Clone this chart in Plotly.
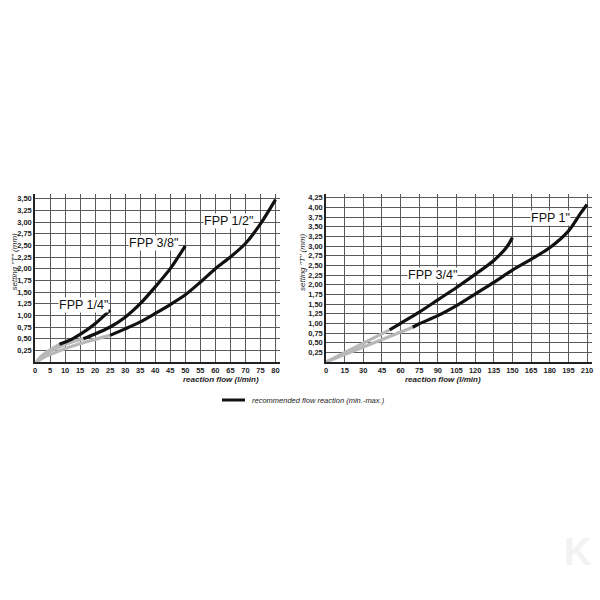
import plotly.graph_objects as go

# ---------------- data ----------------
# left chart (reaction flow l/min, setting "T" mm)
fpp14_gray_x = [0.5, 2, 4.5, 8.1]
fpp14_gray_y = [0.0, 0.12, 0.24, 0.38]
fpp14_x = [8.1, 12, 15, 20, 25]
fpp14_y = [0.38, 0.48, 0.59, 0.82, 1.11]

fpp38_gray_x = [0.5, 3, 7, 11, 16.1]
fpp38_gray_y = [0.0, 0.15, 0.29, 0.40, 0.50]
fpp38_x = [16.1, 20, 25, 30, 35, 40, 45, 50]
fpp38_y = [0.50, 0.60, 0.75, 0.96, 1.25, 1.61, 2.00, 2.49]

fpp12_gray_x = [0.5, 3, 7, 12, 18, 25]
fpp12_gray_y = [0.0, 0.10, 0.21, 0.33, 0.45, 0.57]
fpp12_x = [25, 30, 35, 40, 45, 50, 55, 60, 65, 70, 75, 80]
fpp12_y = [0.57, 0.71, 0.86, 1.04, 1.23, 1.44, 1.71, 2.00, 2.25, 2.54, 2.96, 3.48]

# right chart
fpp34_gray_x = [0, 51.2]
fpp34_gray_y = [0.0, 0.83]
fpp34_x = [51.2, 60, 75, 90, 105, 120, 135, 145, 150]
fpp34_y = [0.83, 1.00, 1.29, 1.61, 1.93, 2.27, 2.63, 2.96, 3.22]

fpp1_gray_x = [0, 69.7]
fpp1_gray_y = [0.0, 0.90]
fpp1_x = [69.7, 75, 90, 105, 120, 135, 150, 165, 180, 195, 205, 210]
fpp1_y = [0.90, 0.99, 1.20, 1.46, 1.76, 2.06, 2.38, 2.66, 2.96, 3.39, 3.86, 4.08]

left_xticks = list(range(0, 85, 5))
left_yticks = [0.25 * i for i in range(1, 15)]
right_xticks = list(range(0, 225, 15))
right_yticks = [0.25 * i for i in range(1, 18)]

labels = [
    ("FPP 1/4\"", "x", "y", 16.0, 1.22),
    ("FPP 3/8\"", "x", "y", 39.5, 2.55),
    ("FPP 1/2\"", "x", "y", 64.5, 3.02),
    ("FPP 3/4\"", "x2", "y2", 86.0, 2.24),
    ("FPP 1\"", "x2", "y2", 181.0, 3.74),
]

GRAY = "#b8b8b8"
BLACK = "#111111"


def fmt(v):
    return ("%.2f" % v).replace(".", ",")


fig = go.Figure()


def add(xs, ys, color, xa, ya):
    fig.add_trace(go.Scatter(x=xs, y=ys, mode="lines", xaxis=xa, yaxis=ya,
                             line=dict(color=color, width=3.2, shape="spline", smoothing=0.8),
                             showlegend=False, hoverinfo="skip"))


for gx, gy in [(fpp14_gray_x, fpp14_gray_y), (fpp38_gray_x, fpp38_gray_y), (fpp12_gray_x, fpp12_gray_y)]:
    add(gx, gy, GRAY, "x", "y")
for bx, by in [(fpp14_x, fpp14_y), (fpp38_x, fpp38_y), (fpp12_x, fpp12_y)]:
    add(bx, by, BLACK, "x", "y")
for gx, gy in [(fpp34_gray_x, fpp34_gray_y), (fpp1_gray_x, fpp1_gray_y)]:
    add(gx, gy, GRAY, "x2", "y2")
for bx, by in [(fpp34_x, fpp34_y), (fpp1_x, fpp1_y)]:
    add(bx, by, BLACK, "x2", "y2")

tickfont = dict(family="Liberation Sans Narrow, Liberation Sans, Arial", size=7.5, color="#222",
                weight="bold")
grid = "#5a5a5a"

common_x = dict(showgrid=True, gridcolor=grid, gridwidth=1, showline=True, linecolor="#222",
                linewidth=1.5, zeroline=False, ticks="", tickfont=tickfont, automargin=False)
common_y = dict(showgrid=True, gridcolor=grid, gridwidth=1, showline=True, linecolor="#222",
                linewidth=1.5, zeroline=False, ticks="", tickfont=tickfont, automargin=False)

fig.update_layout(
    width=600, height=600,
    margin=dict(l=0, r=0, t=0, b=0),
    plot_bgcolor="white", paper_bgcolor="white",
    xaxis=dict(domain=[35 / 600, 280 / 600], range=[0, 81.5], anchor="y",
               tickvals=left_xticks, ticktext=[str(v) for v in left_xticks], **common_x),
    yaxis=dict(domain=[238 / 600, 406 / 600], range=[0, 3.6], anchor="x",
               tickvals=left_yticks, ticktext=[fmt(v) for v in left_yticks], **common_y),
    xaxis2=dict(domain=[326 / 600, 592 / 600], range=[0, 214], anchor="y2",
                tickvals=right_xticks, ticktext=[str(v) for v in right_xticks], **common_x),
    yaxis2=dict(domain=[238 / 600, 406 / 600], range=[0, 4.35], anchor="x2",
                tickvals=right_yticks, ticktext=[fmt(v) for v in right_yticks], **common_y),
)

for text, xa, ya, xv, yv in labels:
    fig.add_annotation(x=xv, y=yv, xref=xa, yref=ya, text=text, showarrow=False,
                       font=dict(family="Liberation Sans, Arial", size=12.5, color="#111"),
                       bgcolor="white", borderpad=0)

axis_title_font = dict(family="Liberation Sans, Arial", size=8, color="#222")
for xc in [181 / 600, 483 / 600]:
    fig.add_annotation(x=xc, y=1 - 379 / 600, xref="paper", yref="paper",
                       text="<i><b>reaction flow (l/min)</b></i>", showarrow=False,
                       font=axis_title_font)
for xc in [7 / 600, 302 / 600]:
    fig.add_annotation(x=xc, y=1 - 262 / 600, xref="paper", yref="paper",
                       text="<i>setting \"T\" (mm)</i>", showarrow=False, textangle=-90,
                       font=axis_title_font)

# legend
fig.add_shape(type="line", xref="paper", yref="paper", x0=222 / 600, x1=245 / 600,
              y0=1 - 400 / 600, y1=1 - 400 / 600, line=dict(color=BLACK, width=3))
fig.add_annotation(x=250 / 600, y=1 - 400 / 600, xref="paper", yref="paper", xanchor="left",
                   text="<i>recommended flow reaction (min.-max.)</i>", showarrow=False,
                   font=dict(family="Liberation Sans, Arial", size=7.5, color="#222"))

# faint logo
fig.add_annotation(x=0.99, y=1 - 575 / 600, xref="paper", yref="paper", xanchor="right",
                   text="<b>K</b>", showarrow=False,
                   font=dict(family="Liberation Sans, Arial", size=38, color="#f2f2f2"))

fig.write_html("out.html", config={"displayModeBar": False},
               post_script="document.body.style.margin='0';document.body.style.padding='0';")
